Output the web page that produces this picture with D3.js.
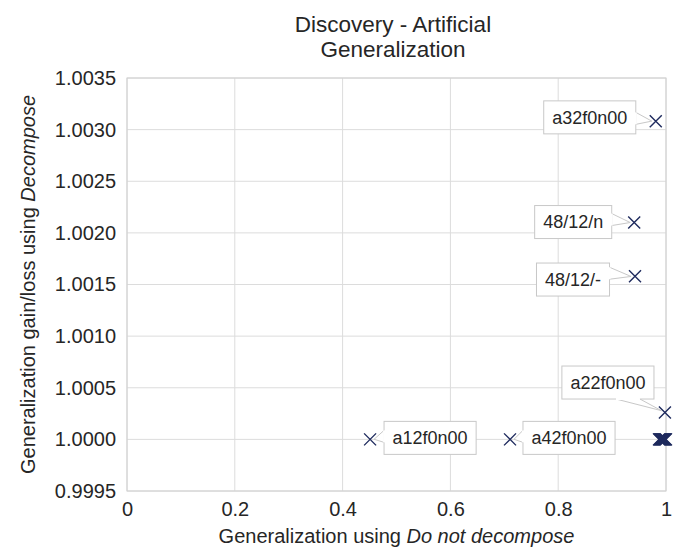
<!DOCTYPE html>
<html>
<head>
<meta charset="utf-8">
<script src="https://cdn.jsdelivr.net/npm/d3@7"></script>
<style>
  html, body { margin: 0; padding: 0; background: #fff; }
  svg { display: block; font-family: "Liberation Sans", Arial, sans-serif; }
</style>
</head>
<body>
<svg id="chart" width="686" height="549"></svg>
<script>
// Generalization without decomposition (x) vs. gain/loss ratio with decomposition (y)
const pointX = [0.981, 0.941, 0.9425, 0.998, 0.451, 0.7106,
                0.987, 0.988, 0.989, 0.990, 0.991, 0.992, 0.993, 0.994,
                0.995, 0.996, 0.997, 0.998, 0.999, 1.000];
const pointY = [1.00308, 1.0021, 1.00158, 1.00026, 1.0000, 1.0000,
                1.0000, 1.0000, 1.0000, 1.0000, 1.0000, 1.0000, 1.0000, 1.0000,
                1.0000, 1.0000, 1.0000, 1.0000, 1.0000, 1.0000];
const pointLabel = ["a32f0n00", "48/12/n", "48/12/-", "a22f0n00", "a12f0n00", "a42f0n00",
                    "", "", "", "", "", "", "", "", "", "", "", "", "", ""];

// Callout placement: box centre offset from its point, in pixels
const calloutDX = [-66, -61, -62, -57, 60, 59];
const calloutDY = [-4, -0.5, 3.3, -30, -1.5, -1.5];

const xTicks = [0, 0.2, 0.4, 0.6, 0.8, 1];
const xTickLabels = ["0", "0.2", "0.4", "0.6", "0.8", "1"];
const yTicks = [0.9995, 1.0000, 1.0005, 1.0010, 1.0015, 1.0020, 1.0025, 1.0030, 1.0035];
const yTickLabels = ["0.9995", "1.0000", "1.0005", "1.0010", "1.0015", "1.0020", "1.0025", "1.0030", "1.0035"];

const titleLines = ["Discovery - Artificial", "Generalization"];

const svg = d3.select("#chart");
const plotL = 127, plotR = 666, plotT = 78, plotB = 491;
const textColor = "#262626";
const gridColor = "#dcdcdc";
const markColor = "#1f2b5e";

const x = d3.scaleLinear().domain([0, 1]).range([plotL, plotR]);
const y = d3.scaleLinear().domain([0.9995, 1.0035]).range([plotB, plotT]);

// Grid
const grid = svg.append("g");
grid.selectAll("line.v").data(xTicks).join("line")
  .attr("class", "v")
  .attr("x1", d => x(d)).attr("x2", d => x(d))
  .attr("y1", plotT).attr("y2", plotB)
  .attr("stroke", gridColor).attr("stroke-width", 1);
grid.selectAll("line.h").data(yTicks).join("line")
  .attr("class", "h")
  .attr("x1", plotL).attr("x2", plotR)
  .attr("y1", d => y(d)).attr("y2", d => y(d))
  .attr("stroke", gridColor).attr("stroke-width", 1);

// Frame
svg.append("rect")
  .attr("x", plotL).attr("y", plotT)
  .attr("width", plotR - plotL).attr("height", plotB - plotT)
  .attr("fill", "none").attr("stroke", "#d0d0d0").attr("stroke-width", 1);

// Axes (labels only; lines come from the grid/frame)
const xAxis = d3.axisBottom(x).tickValues(xTicks)
  .tickFormat((d, i) => xTickLabels[i]).tickSize(0).tickPadding(11);
const gx = svg.append("g").attr("transform", `translate(0,${plotB})`).call(xAxis);
gx.select(".domain").remove();
gx.selectAll("text").attr("fill", textColor).style("font-size", "20px")
  .style("font-family", "'Liberation Sans', Arial, sans-serif");

const yAxis = d3.axisLeft(y).tickValues(yTicks)
  .tickFormat((d, i) => yTickLabels[i]).tickSize(0).tickPadding(11);
const gy = svg.append("g").attr("transform", `translate(${plotL},0)`).call(yAxis);
gy.select(".domain").remove();
gy.selectAll("text").attr("fill", textColor).style("font-size", "20px")
  .style("font-family", "'Liberation Sans', Arial, sans-serif");

// Title
const title = svg.append("text")
  .attr("text-anchor", "middle").attr("fill", textColor)
  .style("font-size", "22.5px");
titleLines.forEach((t, i) => {
  title.append("tspan").attr("x", 393).attr("y", 31.5 + i * 25.8).text(t);
});

// Axis titles
const xTitle = svg.append("text")
  .attr("x", (plotL + plotR) / 2).attr("y", 543)
  .attr("text-anchor", "middle").attr("fill", textColor)
  .style("font-size", "20px");
xTitle.append("tspan").text("Generalization using ");
xTitle.append("tspan").style("font-style", "italic").text("Do not decompose");

const yTitle = svg.append("text")
  .attr("transform", `translate(35,${(plotT + plotB) / 2}) rotate(-90)`)
  .attr("text-anchor", "middle").attr("fill", textColor)
  .style("font-size", "20px");
yTitle.append("tspan").text("Generalization gain/loss using ");
yTitle.append("tspan").style("font-style", "italic").text("Decompose");

// Markers
const pts = pointX.map((v, i) => ({ x: v, y: pointY[i], label: pointLabel[i] }));
const s = 6;
svg.append("g").selectAll("path").data(pts).join("path")
  .attr("d", d => {
    const cx = x(d.x), cy = y(d.y);
    return `M${cx - s},${cy - s}L${cx + s},${cy + s}M${cx - s},${cy + s}L${cx + s},${cy - s}`;
  })
  .attr("fill", "none").attr("stroke", markColor).attr("stroke-width", 1.4);

// Callouts
const calloutG = svg.append("g");
pts.forEach((d, i) => {
  if (!d.label) return;
  const px = x(d.x), py = y(d.y);
  const cx = px + calloutDX[i], cy = py + calloutDY[i];
  const g = calloutG.append("g");
  const txt = g.append("text")
    .attr("x", cx).attr("y", cy).attr("dy", "0.35em")
    .attr("text-anchor", "middle").attr("fill", textColor)
    .style("font-size", "18px").text(d.label);
  const w = txt.node().getComputedTextLength() + 17;
  const h = 33;
  const bx0 = cx - w / 2, bx1 = cx + w / 2, by0 = cy - h / 2, by1 = cy + h / 2;

  // Choose the box edge facing the point
  const gapX = Math.abs(px - cx) - w / 2;
  const gapY = Math.abs(py - cy) - h / 2;
  let b1, b2;
  if (gapX >= gapY) {
    const ex = px > cx ? bx1 : bx0;
    const c = Math.max(by0 + 7, Math.min(by1 - 7, py - 3));
    b1 = [ex, c - 6]; b2 = [ex, c + 6];
  } else {
    const ey = py > cy ? by1 : by0;
    const c = Math.max(bx0 + 10, Math.min(bx1 - 26, px - 20));
    b1 = [c - 12, ey]; b2 = [c + 12, ey];
  }
  const dxp = cx - px, dyp = cy - py, len = Math.hypot(dxp, dyp);
  const tip = [px + dxp / len * 4, py + dyp / len * 4];

  g.insert("path", "text")
    .attr("d", `M${b1}L${tip}L${b2}Z`)
    .attr("fill", "#fff").attr("stroke", "#c8c8c8").attr("stroke-width", 1);
  g.insert("rect", "text")
    .attr("x", bx0).attr("y", by0).attr("width", w).attr("height", h)
    .attr("fill", "#fff").attr("stroke", "#c8c8c8").attr("stroke-width", 1);
  // open the box edge where the pointer joins
  g.insert("line", "text")
    .attr("x1", b1[0]).attr("y1", b1[1]).attr("x2", b2[0]).attr("y2", b2[1])
    .attr("stroke", "#fff").attr("stroke-width", 2);
});
</script>
</body>
</html>
